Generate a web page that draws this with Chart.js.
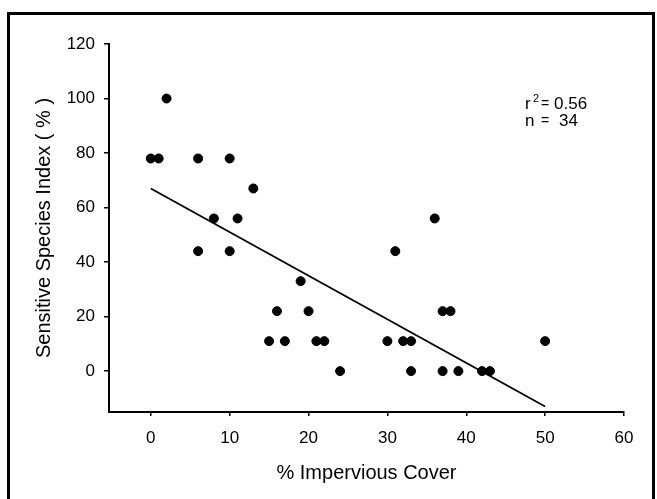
<!DOCTYPE html>
<html>
<head>
<meta charset="utf-8">
<script src="https://cdn.jsdelivr.net/npm/chart.js@4.4.1/dist/chart.umd.min.js"></script>
<style>
  html, body { margin: 0; padding: 0; background: #fff; }
  canvas { display: block; }
</style>
</head>
<body>
<canvas id="myChart" width="657" height="499"></canvas>
<script>
// points (some overlap, so fewer than n = 34 are visible)
var impervious = [0, 1, 2, 6, 6, 8, 10, 10, 11, 13, 15, 16, 17, 19, 20, 21, 22, 24, 30, 31, 32, 33, 33, 36, 37, 37, 38, 39, 42, 43, 50];
var ssi = [78, 78, 100, 78, 44, 56, 78, 44, 56, 67, 11, 22, 11, 33, 22, 11, 11, 0, 11, 44, 11, 11, 0, 56, 22, 0, 22, 0, 0, 0, 11];

// fitted line ends
var fitX = [0, 50];
var fitY = [67, -13];

var xTicks = [0, 10, 20, 30, 40, 50, 60];
var yTicks = [0, 20, 40, 60, 80, 100, 120];

var stats = ['0.56', '34'];

var points = [];
for (var i = 0; i < impervious.length; i++) {
    points.push({ x: impervious[i], y: ssi[i] });
}
var fitLine = [];
for (var j = 0; j < fitX.length; j++) {
    fitLine.push({ x: fitX[j], y: fitY[j] });
}

var fontFam = '"Liberation Sans", Arial, sans-serif';

var extras = {
    id: 'extras',
    afterDraw: function (chart) {
        var c = chart.ctx;
        c.save();
        // r^2 / n note
        c.fillStyle = '#000';
        c.textBaseline = 'alphabetic';
        c.textAlign = 'left';
        c.font = '17px ' + fontFam;
        c.fillText('r', 525, 109);
        c.fillText(stats[0], 554, 109);
        c.fillText('n', 525, 126);
        c.fillText(stats[1], 559, 126);
        c.font = '14px ' + fontFam;
        c.fillText('=', 541, 108);
        c.fillText('=', 541, 125);
        c.font = '11px ' + fontFam;
        c.fillText('2', 533, 102);
        // frame round the figure
        c.strokeStyle = '#000';
        c.lineWidth = 3;
        c.beginPath();
        c.moveTo(8.5, 499);
        c.lineTo(8.5, 13.5);
        c.lineTo(653.5, 13.5);
        c.lineTo(653.5, 499);
        c.stroke();
        c.restore();
    }
};

var ctx = document.getElementById('myChart').getContext('2d');
var myChart = new Chart(ctx, {
    type: 'scatter',
    data: {
        datasets: [{
            data: points,
            backgroundColor: '#000',
            borderColor: '#000',
            pointRadius: 4.5,
            pointHoverRadius: 4.5,
            order: 0
        }, {
            type: 'line',
            data: fitLine,
            borderColor: '#000',
            borderWidth: 1.8,
            pointRadius: 0,
            fill: false,
            order: 1
        }]
    },
    options: {
        responsive: false,
        animation: false,
        events: [],
        layout: { padding: { left: 20, top: 44, right: 33, bottom: 0 } },
        plugins: {
            legend: { display: false },
            tooltip: { enabled: false }
        },
        scales: {
            x: {
                type: 'linear',
                min: -5.3,
                max: 60,
                afterBuildTicks: function (scale) {
                    scale.ticks = xTicks.map(function (v) { return { value: v }; });
                },
                afterFit: function (scale) { scale.height = 87; },
                border: { display: true, color: '#000', width: 2 },
                grid: { drawOnChartArea: false, drawTicks: true, tickLength: 4, color: '#000', lineWidth: 1.5 },
                ticks: { color: '#000', padding: 12, font: { size: 17, family: fontFam } },
                title: {
                    display: true,
                    text: '% Impervious Cover',
                    color: '#000',
                    font: { size: 20, family: fontFam },
                    padding: { top: 4, bottom: 14 }
                }
            },
            y: {
                type: 'linear',
                min: -15,
                max: 120,
                afterBuildTicks: function (scale) {
                    scale.ticks = yTicks.map(function (v) { return { value: v }; });
                },
                afterFit: function (scale) { scale.width = 89; },
                border: { display: true, color: '#000', width: 2 },
                grid: { drawOnChartArea: false, drawTicks: true, tickLength: 5, color: '#000', lineWidth: 1.5 },
                ticks: { color: '#000', padding: 9, font: { size: 17, family: fontFam } },
                title: {
                    display: true,
                    text: 'Sensitive Species Index ( % )',
                    color: '#000',
                    font: { size: 20, family: fontFam },
                    padding: { top: 12, bottom: 4 }
                }
            }
        }
    },
    plugins: [extras]
});
</script>
</body>
</html>
